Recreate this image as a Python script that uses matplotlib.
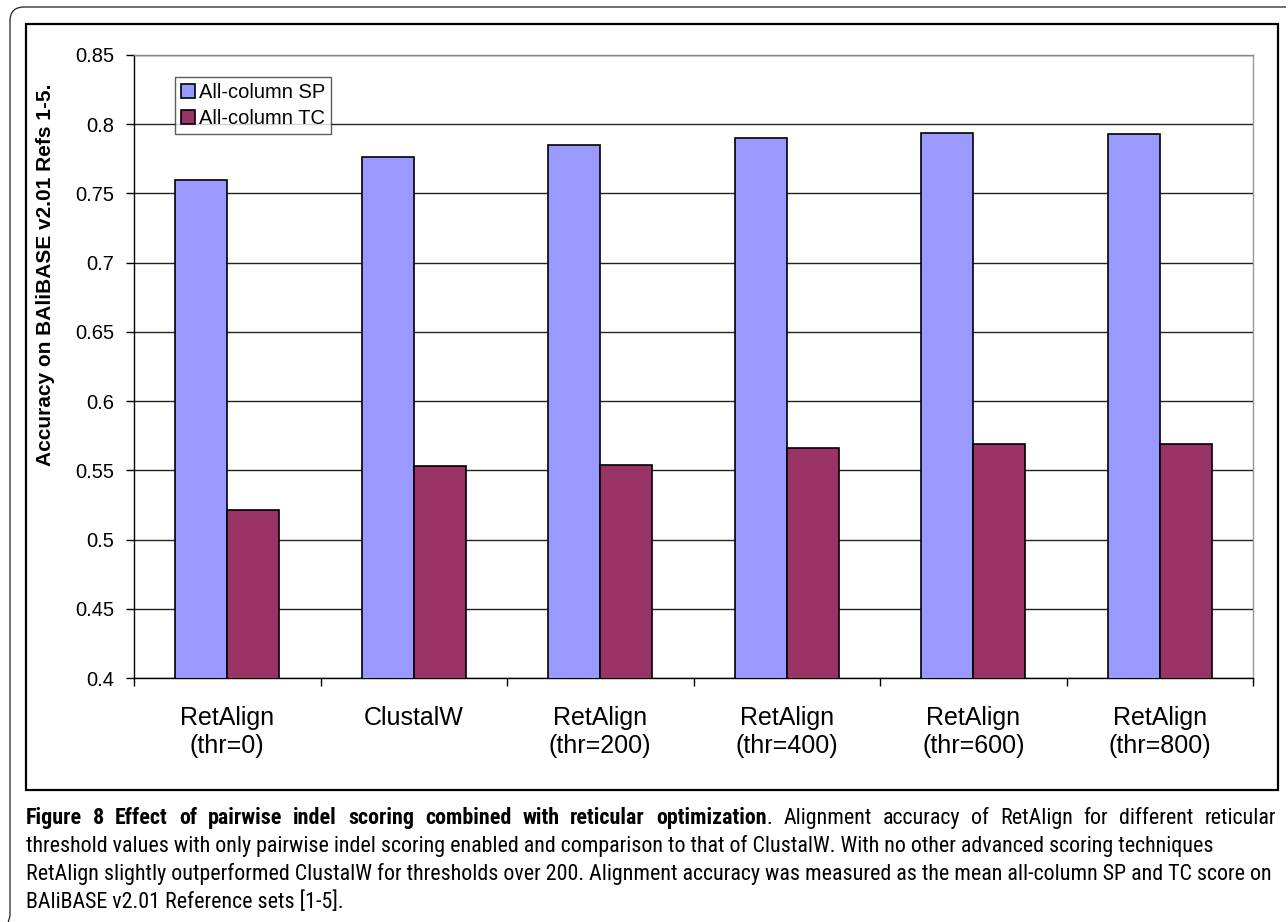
import matplotlib
matplotlib.use("Agg")
import matplotlib.pyplot as plt
from matplotlib import font_manager
from matplotlib.patches import Rectangle, PathPatch
from matplotlib.path import Path

# ---------------- data ----------------
categories = ["RetAlign\n(thr=0)", "ClustalW", "RetAlign\n(thr=200)",
              "RetAlign\n(thr=400)", "RetAlign\n(thr=600)", "RetAlign\n(thr=800)"]
sp_values = [0.760, 0.776, 0.785, 0.790, 0.794, 0.793]
tc_values = [0.521, 0.553, 0.554, 0.566, 0.569, 0.569]
series_names = ["All-column SP", "All-column TC"]
y_ticks = [0.4, 0.45, 0.5, 0.55, 0.6, 0.65, 0.7, 0.75, 0.8, 0.85]
y_label = "Accuracy on BAliBASE v2.01 Refs 1-5."
caption_bold = "Figure 8 Effect of pairwise indel scoring combined with reticular optimization"
caption_lines = [
    ". Alignment accuracy of RetAlign for different reticular",
    "threshold values with only pairwise indel scoring enabled and comparison to that of ClustalW. With no other advanced scoring techniques",
    "RetAlign slightly outperformed ClustalW for thresholds over 200. Alignment accuracy was measured as the mean all-column SP and TC score on",
    "BAliBASE v2.01 Reference sets [1-5].",
]

W, H = 1288, 922
def fx(x): return x / W
def fy(y): return 1 - y / H

SANS = ["Liberation Sans", "DejaVu Sans"]
plt.rcParams["font.family"] = SANS

fig = plt.figure(figsize=(W / 100, H / 100), dpi=100)
fig.patch.set_facecolor("white")

# outer border: left edge + top edge with rounded corners
r = 14
verts = [(fx(6), fy(930)), (fx(10), fy(916)),
         (fx(10), fy(7 + r)),
         (fx(10), fy(7)), (fx(10 + r), fy(7)),
         (fx(1286), fy(7))]
codes = [Path.MOVETO, Path.LINETO, Path.LINETO, Path.CURVE3, Path.CURVE3, Path.LINETO]
fig.patches.append(PathPatch(Path(verts, codes), transform=fig.transFigure, fill=False,
                             edgecolor="#222222", linewidth=0.9))
# chart frame
fig.patches.append(Rectangle((fx(26), fy(790)), fx(1278) - fx(26), fy(24) - fy(790),
                             transform=fig.transFigure, fill=False,
                             edgecolor="black", linewidth=1.6))

ax = fig.add_axes([fx(134), fy(678), fx(1253) - fx(134), fy(55) - fy(678)])
x = list(range(len(categories)))
bw = 0.28
ax.bar([i - bw / 2 for i in x], sp_values, width=bw, color="#9999FF",
       edgecolor="black", linewidth=1.2, label=series_names[0], zorder=3)
ax.bar([i + bw / 2 for i in x], tc_values, width=bw, color="#993366",
       edgecolor="black", linewidth=1.2, label=series_names[1], zorder=3)

ax.set_xlim(-0.5, len(categories) - 0.5)
ax.set_ylim(y_ticks[0], y_ticks[-1])
ax.set_yticks(y_ticks)
ax.set_yticklabels(["%g" % v for v in y_ticks], fontsize=14.5)
ax.yaxis.grid(True, color="#222222", linewidth=1.0, zorder=0)
ax.set_axisbelow(True)

ax.set_xticks(x)
ax.set_xticklabels(categories, fontsize=18, linespacing=1.2)
ax.tick_params(axis="x", which="major", length=0, pad=20)
ax.set_xticks([i - 0.5 for i in range(len(categories) + 1)], minor=True)
ax.tick_params(axis="x", which="minor", length=6, width=1, direction="out", color="black")
ax.tick_params(axis="y", length=6, width=1, direction="out", pad=8, color="black")

ax.spines["left"].set_color("black")
ax.spines["bottom"].set_color("black")
ax.spines["right"].set_color("#999999")
ax.spines["top"].set_color("#888888")
for s in ax.spines.values():
    s.set_linewidth(1.0)

fig.text(fx(46), fy(275), y_label, rotation=90, ha="center", va="center",
         fontsize=15, fontweight="bold")

leg = ax.legend(loc="upper left", bbox_to_anchor=(fx(175), fy(77)),
                bbox_transform=fig.transFigure, borderaxespad=0, fontsize=14.5,
                handlelength=0.7, handleheight=0.7, handletextpad=0.2,
                borderpad=0.3, labelspacing=0.35, fancybox=False, frameon=True)
leg.get_frame().set_edgecolor("#333333")
leg.get_frame().set_linewidth(1.0)

# ---------------- caption ----------------
names = {f.name for f in font_manager.fontManager.ttflist}
cap_family = None
for cand in ["Roboto Condensed", "Liberation Sans Narrow", "Open Sans Condensed",
             "DejaVu Sans Condensed", "Noto Sans"]:
    if cand in names:
        cap_family = cand
        break
if cap_family is None:
    cap_family = "Liberation Sans"
cap_fam = [cap_family, "DejaVu Sans"]

renderer = fig.canvas.get_renderer()
probe = fig.text(0, 0, caption_lines[2], fontsize=10, family=cap_fam)
wprobe = probe.get_window_extent(renderer).width
probe.remove()
cap_size = 10 * (1270 - 26) / wprobe

line_y = [818, 846, 874, 902]

# first line: justified between x=26 and x=1276, bold lead-in + regular remainder
words = [(w, "bold") for w in caption_bold.split(" ")]
rest = caption_lines[0]
rest_words = rest.split(" ")
# attach the leading "." to the last bold word as a separate regular piece
first_piece = rest_words[0]  # "."
pieces = words + [(first_piece, "normal")] + [(w, "normal") for w in rest_words[1:]]
# gaps: no gap between last bold word and "."
texts = []
widths = []
for w, wt in pieces:
    t = fig.text(0, fy(line_y[0]), w, fontsize=cap_size, family=cap_fam,
                 fontweight=wt, ha="left", va="center", color="black")
    texts.append(t)
    widths.append(t.get_window_extent(renderer).width)
gap_flags = [True] * (len(pieces) - 1)
gap_flags[len(words) - 1] = False
n_gaps = sum(gap_flags)
free = (1276 - 26) - sum(widths)
gap = free / n_gaps
xpos = 26.0
for i, t in enumerate(texts):
    t.set_x(xpos / W)
    xpos += widths[i]
    if i < len(gap_flags) and gap_flags[i]:
        xpos += gap

for yy, t in zip(line_y[1:], caption_lines[1:]):
    fig.text(fx(26), fy(yy), t, fontsize=cap_size, family=cap_fam,
             ha="left", va="center", color="black")

fig.savefig("out.png", dpi=100, facecolor="white")
